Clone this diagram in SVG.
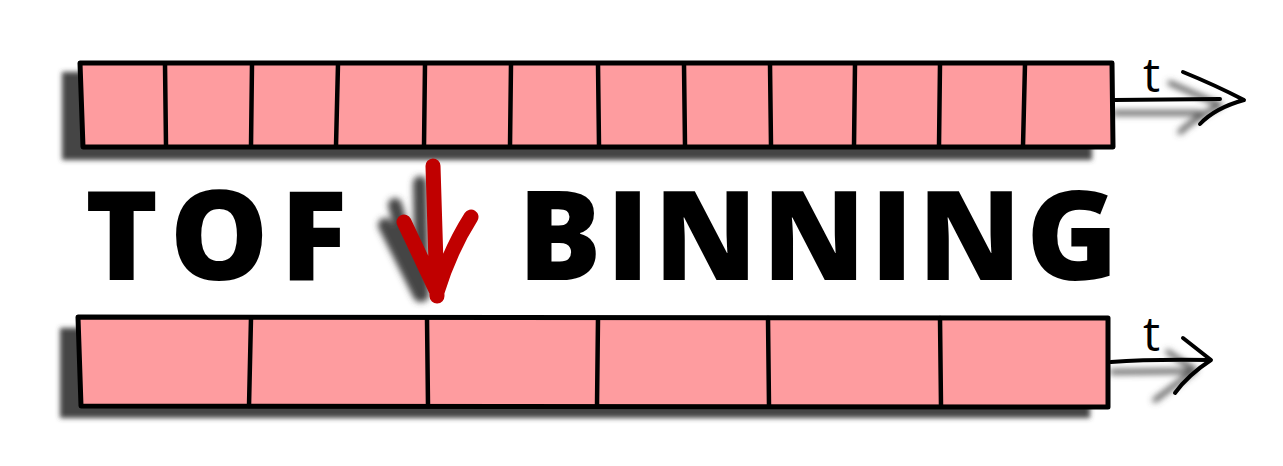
<svg xmlns="http://www.w3.org/2000/svg" width="1283" height="466" viewBox="0 0 1283 466">
<style>
.bar{fill:#fe9c9f;stroke:#000;stroke-width:5;stroke-linejoin:round}
.div{fill:none;stroke:#000;stroke-width:4.5;stroke-linecap:round}
.ln{fill:none;stroke:#000;stroke-width:4;stroke-linecap:round;stroke-linejoin:round}
.sh{fill:#444}
.shl{fill:none;stroke:#555;stroke-width:5;stroke-linecap:round;stroke-linejoin:round}
.big{font-family:"Open Sans",sans-serif;font-weight:800;font-size:124px;fill:#000}
.t{font-family:"Open Sans",sans-serif;font-size:48px;fill:#000}
</style>
<defs>
<filter id="blur" x="-10%" y="-30%" width="120%" height="160%"><feGaussianBlur stdDeviation="2.5"/></filter>
<filter id="blur2" x="-50%" y="-50%" width="200%" height="200%"><feGaussianBlur stdDeviation="3"/></filter>
</defs>
<g id="shadows" filter="url(#blur)">
<rect class="sh" x="62" y="72" width="1030" height="88"/>
<rect class="sh" x="60" y="328" width="1030" height="90"/>
</g>
<g id="arrow-shadows" filter="url(#blur2)">
<path class="shl" d="M1115,113 L1200,113 M1170,83 L1220,105 Q1195,118 1180,132"/>
<path class="shl" d="M1112,372 L1190,371 M1168,352 L1195,370 L1155,400"/>
<path d="M420,183 L422,295 M385,225 L420,295 L395,205" fill="none" stroke="#444" stroke-width="14" stroke-linecap="round" stroke-linejoin="round"/>
</g>
<g id="top-bar">
<path class="bar" d="M80,63 L1112,63 L1113,147 L83,147 Z"/>
<path class="div" d="M165,64 L166,146 M252,64 L251,146 M338,64 L336,146 M425,64 L424,146 M511,64 L510,146 M598,64 L599,146 M684,64 L685,146 M770,64 L771,146 M855,64 L854,146 M940,64 L939,146 M1025,64 L1023,146"/>
</g>
<g id="bottom-bar">
<path class="bar" d="M78,317 L1108,318 L1108,407 L81,406 Z"/>
<path class="div" d="M251,318 L249,406 M427,318 L428,406 M598,318 L597,406 M768,318 L769,406 M940,318 L941,406"/>
</g>
<g id="connectors">
<g id="top-t-arrow">
<path class="ln" d="M1114,100 L1220,99"/>
<path class="ln" d="M1183,72 Q1215,85 1244,100 Q1215,108 1200,124"/>
</g>
<g id="bottom-t-arrow">
<path class="ln" d="M1111,362 Q1150,359 1210,360"/>
<path class="ln" d="M1183,338 L1211,360 Q1188,375 1175,393"/>
</g>
<g id="red-arrow">
<path d="M433,166 Q435,230 437,296 M404,222 L437,292 Q450,250 471,217" fill="none" stroke="#c00000" stroke-width="15" stroke-linecap="round" stroke-linejoin="round"/>
</g>
</g>
<g id="labels">
<text class="t" x="1143" y="92">t</text>
<text class="t" x="1143" y="351">t</text>
<text class="big" x="85" y="280" textLength="262" lengthAdjust="spacing">TOF</text>
<text class="big" x="518" y="280" textLength="600" lengthAdjust="spacing">BINNING</text>
</g>
</svg>
